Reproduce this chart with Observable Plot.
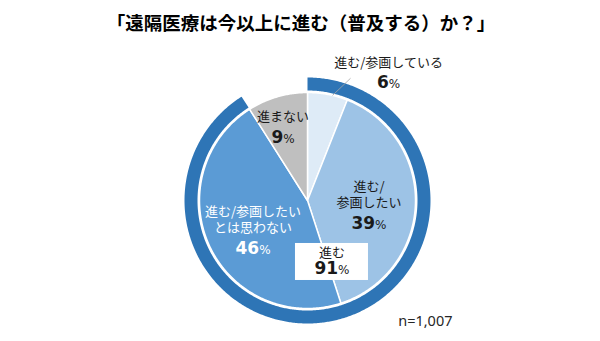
<!DOCTYPE html>
<html><head><meta charset="utf-8">
<script src="https://cdn.jsdelivr.net/npm/d3@7"></script>
<script src="https://cdn.jsdelivr.net/npm/@observablehq/plot@0.6"></script>
<style>
body{margin:0;background:#fff;width:600px;height:341px;overflow:hidden;font-family:"Noto Sans CJK JP",sans-serif;}
#title{height:44px;line-height:44px;text-align:center;font-size:18.5px;font-weight:bold;color:#000;padding-left:2px;}
</style></head><body>
<div id="title"></div><div id="chart"></div>
<script>
// ---- data ----
const title = "「遠隔医療は今以上に進む（普及する）か？」";
const categories = ["進む/参画している", "進む/参画したい", "進む/参画したいとは思わない", "進まない"];
const categoryLabels = ["進む/参画している", "進む/\n参画したい", "進む/参画したい\nとは思わない", "進まない"];
const shares = [6, 39, 46, 9];
const ringLabel = "進む";
const ringShare = 91;
const sampleNote = "n=1,007";

// ---- styles / layout ----
const sliceColors = ["#DEEBF7", "#9DC3E6", "#5B9BD5", "#BFBFBF"];
const ringColor = "#2E75B6";
const whiteText = [false, false, true, false];
const labelNudgeDeg = [23.7, 18.7, -16.2, -5];   // angular nudge from slice middle
const labelRadius = [1.325, 0.608, 0.672, 0.626]; // in pie radii
const ringNudgeDeg = -3.6, ringLabelRadius = 0.669;
const PX = 108;                 // px per pie radius
const ringIn = 110 / PX, ringOut = 123 / PX;
const W = 600, H = 297, CX = 307, CY = 156;

document.getElementById("title").textContent = title;

const total = d3.sum(shares);
const rad = d => d * Math.PI / 180;
const pt = (r, a) => [r * Math.sin(a), r * Math.cos(a)];
let acc = 0;
const slices = shares.map((v, i) => {
  const a0 = acc / total * 2 * Math.PI; acc += v;
  const a1 = acc / total * 2 * Math.PI;
  return {i, name: categories[i], label: categoryLabels[i], value: v, a0, a1, mid: (a0 + a1) / 2};
});

function arcPts(r, a0, a1) {
  const n = Math.max(2, Math.ceil(Math.abs(a1 - a0) / 0.01));
  return d3.range(n + 1).map(j => pt(r, a0 + (a1 - a0) * j / n));
}
const pieVerts = slices.flatMap(s =>
  [[0, 0], ...arcPts(1, s.a0, s.a1)].map(([x, y]) => ({name: s.name, x, y})));
const ringEnd = ringShare / total * 2 * Math.PI;
const ringVerts = [...arcPts(ringOut, 0, ringEnd), ...arcPts(ringIn, ringEnd, 0)].map(([x, y]) => ({x, y}));

// label anchors (number line centre)
const digitW = 11.8, pctW = 11.4;
const labels = slices.map(s => {
  const [cx, cy] = pt(labelRadius[s.i], s.mid + rad(labelNudgeDeg[s.i]));
  const jdx = (String(s.value).length * digitW - pctW) / 2 / PX;
  return {...s, cx, cy, jdx, white: whiteText[s.i]};
});
const ringMid = ringEnd / 2;
const [rcx, rcy] = pt(ringLabelRadius, ringMid + rad(ringNudgeDeg));
const ringLab = [{label: ringLabel, value: ringShare, cx: rcx, cy: rcy,
  jdx: (String(ringShare).length * digitW - pctW) / 2 / PX}];

const s0 = slices[0];
const leader = [{p1: pt(1.0, s0.mid + rad(2.6)), p2: pt(1.2, s0.mid + rad(8.6))}];

const numFont = "DejaVu Sans";
const jpFont = "Noto Sans CJK JP";
const catDy = -16;

const plot = Plot.plot({
  width: W, height: H, margin: 0,
  x: {domain: [-CX / PX, (W - CX) / PX], axis: null},
  y: {domain: [-(H - CY) / PX, CY / PX], axis: null},
  color: {domain: categories, range: sliceColors},
  style: {fontFamily: jpFont, background: "white"},
  marks: [
    Plot.line(ringVerts, {x: "x", y: "y", fill: ringColor, stroke: "none", curve: "linear-closed"}),
    Plot.line(pieVerts, {x: "x", y: "y", z: "name", fill: "name", stroke: "white", strokeWidth: 1.5, curve: "linear-closed"}),
    Plot.link(leader, {x1: d => d.p1[0], y1: d => d.p1[1], x2: d => d.p2[0], y2: d => d.p2[1], stroke: "#A6A6A6", strokeWidth: 0.8}),
    // ring label box
    Plot.rect(ringLab, {x1: d => d.cx - 36.5 / PX, x2: d => d.cx + 36.5 / PX, y1: d => d.cy + 25 / PX, y2: d => d.cy - 12 / PX, fill: "white"}),
    // category labels
    Plot.text(labels.filter(d => !d.white), {x: "cx", y: "cy", text: "label", fill: "#1a1a1a", fontSize: 13, fontFamily: jpFont, lineAnchor: "bottom", lineHeight: 1.25, dy: catDy}),
    Plot.text(labels.filter(d => d.white), {x: "cx", y: "cy", text: "label", fill: "white", fontSize: 13, fontFamily: jpFont, lineAnchor: "bottom", lineHeight: 1.25, dy: catDy}),
    Plot.text(ringLab, {x: "cx", y: "cy", text: "label", fill: "#1a1a1a", fontSize: 13, fontFamily: jpFont, lineAnchor: "bottom", dy: -11}),
    // numbers
    Plot.text([...labels, ...ringLab], {x: d => d.cx + d.jdx, y: "cy", text: d => String(d.value), textAnchor: "end", fontWeight: "bold", fontSize: 17, fontFamily: numFont, fill: d => d.white ? "white" : "#1a1a1a"}),
    Plot.text([...labels, ...ringLab], {x: d => d.cx + d.jdx, y: "cy", text: () => "%", textAnchor: "start", fontSize: 12, fontFamily: numFont, dy: 1.6, fill: d => d.white ? "white" : "#1a1a1a"}),
    // sample size
    Plot.text([sampleNote], {frameAnchor: "bottom-right", text: d => d, fontSize: 14.5, fontFamily: "Noto Sans", fill: "#262626", dx: -148, dy: -16})
  ]
});
document.getElementById("chart").appendChild(plot);
</script>
</body></html>
